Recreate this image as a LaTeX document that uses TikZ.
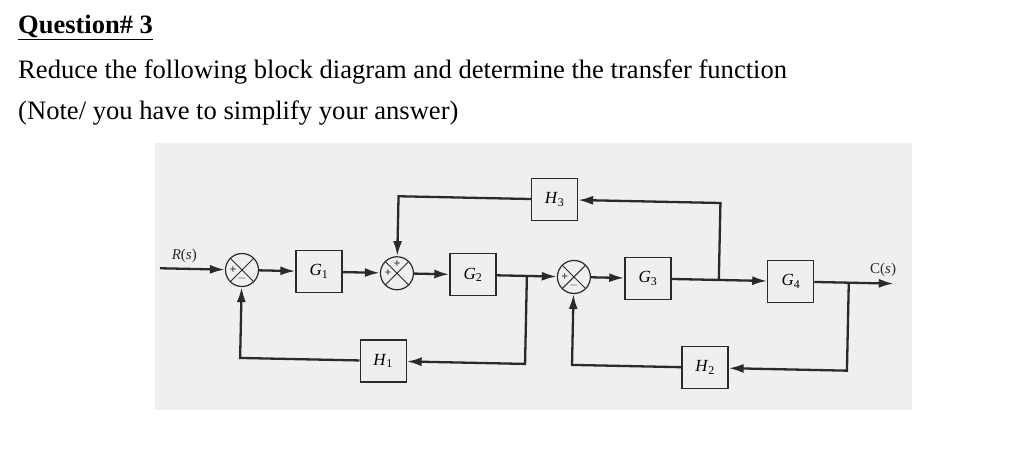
\documentclass[tikz,border=0pt]{standalone}
\usepackage{fontspec}
\setmainfont{Liberation Serif}
\usetikzlibrary{arrows.meta, positioning, calc}
\definecolor{fondoScan}{HTML}{EFEFEF}
\definecolor{tinta}{HTML}{2A2A2A}
\newcommand{\bsub}[2]{\textit{#1}\textsubscript{\upshape #2}}

\begin{document}
\begin{tikzpicture}[
        x=1pt, y=-1pt,
        block/.style={draw=tinta, line width=1.2pt, minimum width=46pt, minimum height=42pt,
            inner sep=0pt, font=\fontsize{17}{19}\selectfont},
        sumj/.style={circle, draw=tinta, line width=1.2pt, minimum size=33pt, inner sep=0pt,
            path picture={\draw[tinta, line width=1pt]
                (path picture bounding box.north west) -- (path picture bounding box.south east)
                (path picture bounding box.north east) -- (path picture bounding box.south west);}},
        sgn/.style={font=\bfseries\fontsize{12}{12}\selectfont, inner sep=0pt, text=tinta},
        flecha/.style={tinta, line width=2.3pt, -{Latex[length=15pt,width=9pt]}},
        lbl/.style={font=\fontsize{15}{17}\selectfont, text=tinta},
        texto/.style={anchor=base west, inner sep=0pt, font=\fontsize{26.6}{30}\selectfont}
    ]
        \useasboundingbox (0,0) rectangle (1024,448);
        \fill[fondoScan] (155,143) rectangle (912,410);

        % enunciado
        \node[texto, font=\bfseries\fontsize{26.5}{30}\selectfont] (titulo) at (18,33) {\underline{Question\# 3}};
        \node[texto] (enunciado) at (18,78) {Reduce the following block diagram and determine the transfer function};
        \node[texto] (nota) at (18,119) {(Note/ you have to simplify your answer)};

        \begin{scope}[rotate around={-1.2:(242,270)}]
            \node[sumj] (s1) at (242,270) {};
            \node[block] (g1) at (319,270) {\bsub{G}{1}};
            \node[sumj] (s2) at (397,270) {};
            \node[block] (g2) at (473,270) {\bsub{G}{2}};
            \node[sumj] (s3) at (574,270) {};
            \node[block] (g3) at (648,270) {\bsub{G}{3}};
            \node[block] (g4) at (791,270) {\bsub{G}{4}};
            \node[block] (h3) at (553,193) {\bsub{H}{3}};
            \node[block] (h1) at (385,358) {\bsub{H}{1}};
            \node[block] (h2) at (707,358) {\bsub{H}{2}};

            \node[sgn] at ([xshift=-9pt]s1.center) {+};
            \node[sgn] at ([yshift=-9pt]s1.center) {$-$};
            \node[sgn] at ([xshift=-9pt]s2.center) {+};
            \node[sgn] at ([yshift=9pt]s2.center) {+};
            \node[sgn] at ([xshift=-9pt]s3.center) {+};
            \node[sgn] at ([yshift=-9pt]s3.center) {$-$};

            \coordinate (rin) at (160,270);
            \coordinate (cout) at (894,270);
            \coordinate (p1) at (527,270);
            \coordinate (p2) at (719,270);
            \coordinate (p3) at (849,270);
            \node[lbl] (rlab) at (184,257) {\textit{R}(\textit{s})};
            \node[lbl] (clab) at (883,256) {C(\textit{s})};

            \draw[flecha] (rin) -- (s1);
            \draw[flecha] (s1) -- (g1);
            \draw[flecha] (g1) -- (s2);
            \draw[flecha] (s2) -- (g2);
            \draw[flecha] (g2) -- (s3);
            \draw[flecha] (s3) -- (g3);
            \draw[flecha] (g3) -- (g4);
            \draw[flecha] (g4) -- (cout);
            \draw[flecha] (p1) |- (h1);
            \draw[flecha] (h1) -| (s1);
            \draw[flecha] (p2) |- (h3);
            \draw[flecha] (h3) -| (s2);
            \draw[flecha] (p3) |- (h2);
            \draw[flecha] (h2) -| (s3);
        \end{scope}
\end{tikzpicture}
\end{document}
